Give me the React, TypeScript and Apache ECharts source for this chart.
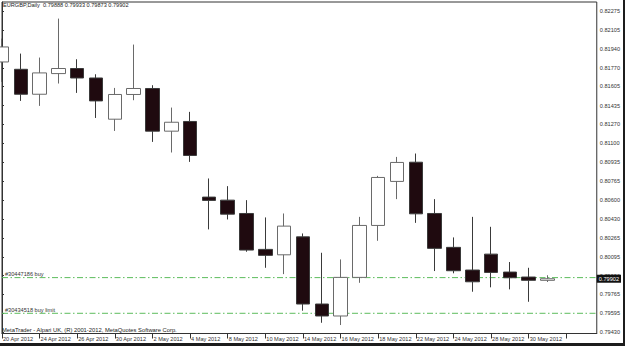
import React, { useEffect, useRef } from 'react';
import * as echarts from 'echarts';

const dates = [
  '20 Apr 2012', '23 Apr 2012', '24 Apr 2012', '25 Apr 2012', '26 Apr 2012', '27 Apr 2012',
  '30 Apr 2012', '1 May 2012', '2 May 2012', '3 May 2012', '4 May 2012', '7 May 2012',
  '8 May 2012', '9 May 2012', '10 May 2012', '11 May 2012', '14 May 2012', '15 May 2012',
  '16 May 2012', '17 May 2012', '18 May 2012', '21 May 2012', '22 May 2012', '23 May 2012',
  '24 May 2012', '25 May 2012', '28 May 2012', '29 May 2012', '30 May 2012', '31 May 2012',
];

const openPrices = [
  0.81822, 0.81757, 0.81536, 0.81719, 0.81764, 0.81680, 0.81315, 0.81534, 0.81587, 0.81209,
  0.81295, 0.80625, 0.80598, 0.80480, 0.80162, 0.80114, 0.80273, 0.79678, 0.79572, 0.79914,
  0.80374, 0.80764, 0.80934, 0.80480, 0.80180, 0.79979, 0.80120, 0.79961, 0.79917, 0.79888,
];
const closePrices = [
  0.81955, 0.81536, 0.81725, 0.81764, 0.81680, 0.81477, 0.81534, 0.81587, 0.81209, 0.81288,
  0.80994, 0.80596, 0.80474, 0.80156, 0.80109, 0.80368, 0.79678, 0.79572, 0.79914, 0.80374,
  0.80799, 0.80932, 0.80477, 0.80171, 0.79973, 0.79875, 0.79958, 0.79911, 0.79888, 0.79902,
];
const lowPrices = [
  0.81645, 0.81477, 0.81433, 0.81631, 0.81548, 0.81326, 0.81211, 0.81483, 0.81114, 0.81020,
  0.80937, 0.80339, 0.80427, 0.80141, 0.79999, 0.79943, 0.79619, 0.79512, 0.79492, 0.79866,
  0.80238, 0.80607, 0.80397, 0.79970, 0.79950, 0.79787, 0.79826, 0.79808, 0.79698, 0.79873,
];
const highPrices = [
  0.82029, 0.81896, 0.81861, 0.82206, 0.81846, 0.81713, 0.81592, 0.81976, 0.81616, 0.81418,
  0.81380, 0.80790, 0.80722, 0.80598, 0.80445, 0.80480, 0.80303, 0.80132, 0.80073, 0.80450,
  0.80813, 0.80981, 0.81011, 0.80607, 0.80268, 0.80450, 0.80362, 0.80050, 0.79999, 0.79933,
];

const yTickLabels = [
  '0.79430', '0.79595', '0.79765', '0.79930', '0.80095', '0.80265', '0.80430', '0.80600', '0.80765',
  '0.80935', '0.81100', '0.81270', '0.81435', '0.81605', '0.81770', '0.81940', '0.82105', '0.82275',
];

const titleText = 'EURGBP,Daily  0.79888 0.79933 0.79873 0.79902';
const footerText = 'MetaTrader - Alpari UK, (R) 2001-2012, MetaQuotes Software Corp.';
const orderNames = ['#30447186 buy', '#30434518 buy limit'];
const orderPrices = [0.79912, 0.79596];
const bidPrice = 0.79902;

const FONT = 'Liberation Sans, Arial, sans-serif';
const ORDER_GREEN = '#5cbc5c';
const X_MAX = 31.62;

export default function App() {
  const ref = useRef<HTMLDivElement>(null);

  useEffect(() => {
    document.body.style.margin = '0';
    if (!ref.current) return;
    const chart = echarts.init(ref.current, undefined, { renderer: 'svg' });

    const candleData = dates.map((_, i) => [i, openPrices[i], closePrices[i], lowPrices[i], highPrices[i]]);
    const tickValues = yTickLabels.map((s) => parseFloat(s));

    const orderSeries = orderNames.map((name, i) => ({
      type: 'line',
      name,
      data: [
        [0, orderPrices[i]],
        [X_MAX, orderPrices[i]],
      ],
      showSymbol: false,
      symbol: 'none',
      silent: true,
      z: 1,
      lineStyle: { color: ORDER_GREEN, width: 1, type: [6, 2.5, 1.5, 2.5] },
      itemStyle: { color: ORDER_GREEN },
      markPoint: {
        symbol: 'rect',
        symbolSize: 0,
        silent: true,
        data: [
          {
            coord: [0, orderPrices[i]],
            label: {
              show: true,
              position: 'right',
              formatter: name,
              color: '#333',
              fontSize: 5.6,
              fontFamily: FONT,
              offset: [-2, -3.5],
            },
          },
        ],
      },
    }));

    const bidLine: any[] = [
      {
        name: 'bid',
        yAxis: bidPrice,
        lineStyle: { color: 'rgba(0,0,0,0)', width: 1, opacity: 1 },
        label: {
          show: true,
          position: 'end',
          formatter: () => bidPrice.toFixed(5),
          color: '#ffffff',
          backgroundColor: '#111111',
          opacity: 1,
          padding: [1, 2, 1, 2],
          fontSize: 5.6,
          fontFamily: FONT,
          distance: 0,
        },
      },
    ];

    chart.setOption({
      animation: false,
      backgroundColor: '#fff',
      title: [
        {
          text: titleText,
          left: 3,
          top: 2,
          padding: 0,
          textStyle: { fontSize: 5.6, fontWeight: 'normal', color: '#222', fontFamily: FONT },
        },
        {
          text: footerText,
          left: 2,
          top: 326.5,
          padding: 0,
          textStyle: { fontSize: 5.8, fontWeight: 'normal', color: '#222', fontFamily: FONT },
        },
      ],
      grid: {
        left: 2,
        top: 2,
        right: 23,
        bottom: 9.5,
        show: true,
        borderColor: '#333',
        borderWidth: 1,
        backgroundColor: '#fff',
      },
      xAxis: {
        type: 'value',
        min: 0,
        max: X_MAX,
        interval: 2,
        axisLine: { show: true, lineStyle: { color: '#333', width: 1 } },
        axisTick: { show: true, length: 5, lineStyle: { color: '#333' } },
        splitLine: { show: false },
        axisLabel: {
          show: true,
          align: 'left',
          margin: 2,
          padding: [0, 0, 0, 1],
          fontSize: 5.6,
          fontFamily: FONT,
          color: '#333',
          showMaxLabel: false,
          formatter: (v: number) => (Number.isInteger(v) && dates[v] ? dates[v] : ''),
        },
      },
      yAxis: {
        type: 'value',
        position: 'right',
        min: 0.79417,
        max: 0.82353,
        scale: true,
        axisLine: { show: true, lineStyle: { color: '#333', width: 1 } },
        axisTick: { show: true, length: 2, customValues: tickValues, lineStyle: { color: '#333' } },
        splitLine: { show: false },
        axisLabel: {
          show: true,
          margin: 3,
          fontSize: 5.6,
          fontFamily: FONT,
          color: '#333',
          customValues: tickValues,
          formatter: (v: number) => v.toFixed(5),
        },
      },
      series: [
        {
          type: 'candlestick',
          data: candleData,
          encode: { x: 0, y: [1, 2, 3, 4] },
          barWidth: 14,
          clip: true,
          z: 2,
          itemStyle: {
            color: '#ffffff',
            color0: '#1f0a0f',
            borderColor: '#6a6a6a',
            borderColor0: '#3a3a3a',
            borderWidth: 1,
          },
        },
        ...orderSeries,
        {
          type: 'line',
          name: 'bid',
          data: [],
          markLine: {
            silent: true,
            symbol: ['none', 'none'],
            precision: 5,
            animation: false,
            data: bidLine,
          },
          z: 5,
        },
      ],
    });

    return () => chart.dispose();
  }, []);

  return (
    <div style={{ width: 625, height: 346, background: '#1c1c1c', position: 'relative' }}>
      <div ref={ref} style={{ width: 623, height: 343, background: '#fff' }} />
    </div>
  );
}
